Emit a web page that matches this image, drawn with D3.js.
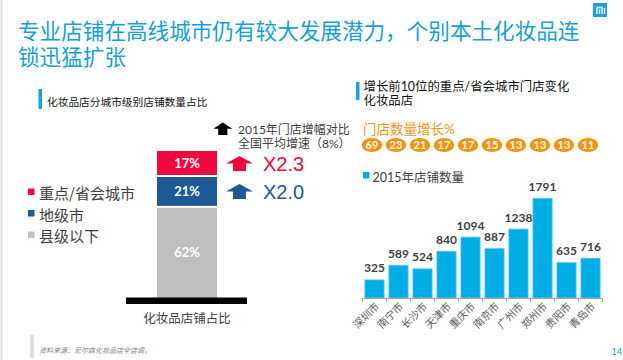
<!DOCTYPE html>
<html><head><meta charset="utf-8">
<script src="https://cdn.jsdelivr.net/npm/d3@7/dist/d3.min.js"></script>
<style>
html,body{margin:0;padding:0;background:#fff;}
text{font-family:Lato,"Noto Sans CJK SC",sans-serif;}
</style></head>
<body><svg id="c" width="623" height="360"></svg>
<script>
// ---- data ----
const titleLines = ["专业店铺在高线城市仍有较大发展潜力，个别本土化妆品连", "锁迅猛扩张"];
const rightTitleLines = ["增长前10位的重点/省会城市门店变化", "化妆品店"];
const levelNames = ["重点/省会城市", "地级市", "县级以下"];
const levelShares = [17, 21, 62];
const levelColors = ["#ee0a3c", "#1d5a94", "#bfbfbf"];
const growthMultiples = ["X2.3", "X2.0"];
const cities = ["深圳市","南宁市","长沙市","天津市","重庆市","南京市","广州市","郑州市","贵阳市","青岛市"];
const growthPct = [69, 23, 21, 17, 17, 15, 13, 13, 13, 11];
const stores2015 = [325, 589, 524, 840, 1094, 887, 1238, 1791, 635, 716];

const svg = d3.select("#c");
const CJK = '"Noto Sans CJK SC",sans-serif';
const MIX = 'Lato,"Noto Sans CJK SC",sans-serif';
const BLUE = "#14a0dc";

// left edge line
svg.append("line").attr("x1",1.5).attr("x2",1.5).attr("y1",0).attr("y2",360)
  .attr("stroke","#dcdcdc").attr("stroke-width",2);

// logo
svg.append("rect").attr("x",593).attr("y",3).attr("width",14).attr("height",14).attr("fill","#1aa3e0");
svg.append("path").attr("d","M597,14 V7.5 H602 V14 M599.5,9.5 V14 M604.5,8 V14")
  .attr("fill","none").attr("stroke","#fff").attr("stroke-width",1.3);

// title (one text element, two lines)
const tt = svg.append("text").attr("fill",BLUE).style("font-family",CJK).style("font-size","21.6px");
tt.selectAll("tspan").data(titleLines).join("tspan")
  .attr("x",18).attr("y",(d,i)=>38.5+i*26.5).text(d=>d);

// ---------- LEFT PANEL ----------
svg.append("rect").attr("x",38.5).attr("y",89).attr("width",3.5).attr("height",20).attr("fill","#12a5de");
svg.append("text").attr("x",47).attr("y",105.5).style("font-family",CJK).style("font-size","10.7px")
  .attr("fill","#111").text("化妆品店分城市级别店铺数量占比");

function arrow(g, cx, top, w, h, color){
  const hw = w/2, sw = w*0.24, hh = h*0.5;
  g.append("path").attr("d",
    `M${cx},${top} L${cx+hw},${top+hh} L${cx+sw},${top+hh} L${cx+sw},${top+h} L${cx-sw},${top+h} L${cx-sw},${top+hh} L${cx-hw},${top+hh} Z`)
    .attr("fill",color);
}
const gl = svg.append("g");
arrow(gl, 222.8, 122.5, 19, 12.5, "#000");
const note = gl.append("text").style("font-size","12px").attr("fill","#404040").style("font-family",MIX);
note.selectAll("tspan").data(["2015年门店增幅对比","全国平均增速（8%）"]).join("tspan")
  .attr("x",238).attr("y",(d,i)=>134+i*13.5).text(d=>d);

// stacked bar
const yS = d3.scaleLinear().domain([0,100]).range([298,151]);
let cum = 100;
const segs = levelShares.map((v,i)=>{ const s={name:levelNames[i],v,top:cum,bot:cum-v,color:levelColors[i]}; cum-=v; return s;});
const bx = 157, bw = 60;
gl.selectAll("rect.seg").data(segs).join("rect").attr("class","seg")
  .attr("x",bx).attr("width",bw)
  .attr("y",d=>yS(d.top)+(d.top<100?1:0)).attr("height",d=>yS(d.bot)-yS(d.top)-(d.top<100?1:0)-(d.bot>0?1:0))
  .attr("fill",d=>d.color);
gl.selectAll("text.segl").data(segs).join("text").attr("class","segl")
  .attr("x",bx+bw/2).attr("y",d=>(yS(d.top)+yS(d.bot))/2+4.5).attr("text-anchor","middle")
  .style("font-size","13px").style("font-weight","bold").attr("fill","#fff").text(d=>d.v+"%");
gl.append("rect").attr("x",126).attr("y",297.5).attr("width",121).attr("height",6.5).attr("fill","#000");
gl.append("text").attr("x",187).attr("y",323).attr("text-anchor","middle").style("font-family",CJK)
  .style("font-size","12.5px").attr("fill","#404040").text("化妆品店铺占比");

// growth arrows
growthMultiples.forEach((m,i)=>{
  const s = segs[i];
  const mid = (yS(s.top)+yS(s.bot))/2;
  arrow(gl, 239.5, mid-7.5, 27, 15, s.color);
  gl.append("text").attr("x",263).attr("y",mid+7.5).style("font-size","20px")
    .style("font-family",'"Liberation Sans",sans-serif').attr("fill",s.color).text(m);
});

// legend left
const lg = gl.selectAll("g.leg").data(levelNames).join("g").attr("class","leg")
  .attr("transform",(d,i)=>`translate(28,${199+i*21.5})`);
lg.append("rect").attr("x",0).attr("y",-10.5).attr("width",6.5).attr("height",6.5).attr("fill",(d,i)=>levelColors[i]);
lg.append("text").attr("x",11).attr("y",0).style("font-family",CJK).style("font-size","15px")
  .attr("fill","#404040").text(d=>d);

// source
svg.append("rect").attr("x",30).attr("y",335).attr("width",4).attr("height",23).attr("fill","#dedede");
svg.append("text").attr("x",39).attr("y",353).style("font-family",CJK).style("font-size","7px")
  .style("font-style","italic").attr("fill","#7f7f7f").text("资料来源：尼尔森化妆品店全店调，");

// ---------- RIGHT PANEL ----------
svg.append("rect").attr("x",356).attr("y",82).attr("width",3.5).attr("height",18).attr("fill","#12a5de");
const rt = svg.append("text").style("font-size","12.4px").attr("fill","#111").style("font-family",MIX);
rt.selectAll("tspan").data(rightTitleLines).join("tspan")
  .attr("x",363.5).attr("y",(d,i)=>90.5+i*14).text(d=>d);

const ORANGE = "#f5930f";
svg.append("text").attr("x",363).attr("y",134).style("font-size","13.5px").attr("fill",ORANGE)
  .style("font-family",MIX).text("门店数量增长%");

const x = d3.scaleBand().domain(cities).range([362.5,602.5]).paddingInner(0.2).paddingOuter(0.1);
const y = d3.scaleLinear().domain([0,1791]).range([298,198.3]);

const gc = svg.append("g");
gc.selectAll("ellipse").data(cities).join("ellipse")
  .attr("cx",d=>x(d)+x.bandwidth()/2 - 2.5).attr("cy",145).attr("rx",10.3).attr("ry",7)
  .attr("fill",ORANGE);
gc.selectAll("text.gp").data(cities).join("text").attr("class","gp")
  .attr("x",d=>x(d)+x.bandwidth()/2 - 2.5).attr("y",149).attr("text-anchor","middle")
  .style("font-size","11px").style("font-weight","bold").attr("fill","#fff")
  .text((d,i)=>growthPct[i]);

// legend right
svg.append("rect").attr("x",363).attr("y",172).attr("width",6.5).attr("height",6.5).attr("fill","#00aee6");
svg.append("text").attr("x",372.5).attr("y",181.5).style("font-size","12.5px").attr("fill","#404040")
  .style("font-family",MIX).text("2015年店铺数量");

// bars
gc.selectAll("rect.bar").data(cities).join("rect").attr("class","bar")
  .attr("x",d=>x(d)).attr("width",x.bandwidth())
  .attr("y",(d,i)=>y(stores2015[i])).attr("height",(d,i)=>y(0)-y(stores2015[i]))
  .attr("fill","#00aee6").attr("stroke","#5cc9ee").attr("stroke-width",0.8);
gc.selectAll("text.bv").data(cities).join("text").attr("class","bv")
  .attr("x",d=>x(d)+x.bandwidth()/2).attr("y",(d,i)=>y(stores2015[i])-7.5).attr("text-anchor","middle")
  .style("font-size","12px").style("font-weight","bold").attr("fill","#404040")
  .text((d,i)=>stores2015[i]);

// axis
const xAxis = d3.axisBottom(x).tickSize(0).tickFormat("");
const ax = svg.append("g").attr("transform","translate(0,298)").call(xAxis);
ax.select(".domain").attr("stroke","#a6a6a6").attr("d","M362.5,0.5H602.5");
const edges = d3.range(cities.length+1).map(i=>362.5+i*24);
ax.selectAll("line.tk").data(edges).join("line").attr("class","tk")
  .attr("x1",d=>d).attr("x2",d=>d).attr("y1",0).attr("y2",4).attr("stroke","#a6a6a6");
gc.selectAll("text.cl").data(cities).join("text").attr("class","cl")
  .attr("transform",d=>`translate(${x(d)+x.bandwidth()/2+5.5},${307}) rotate(-45)`)
  .attr("text-anchor","end").style("font-family",CJK).style("font-size","10.5px")
  .attr("fill","#595959").text(d=>d);

// page number
svg.append("text").attr("x",622).attr("y",355).attr("text-anchor","end").style("font-size","9px")
  .attr("fill",BLUE).text("14");
</script></body></html>
